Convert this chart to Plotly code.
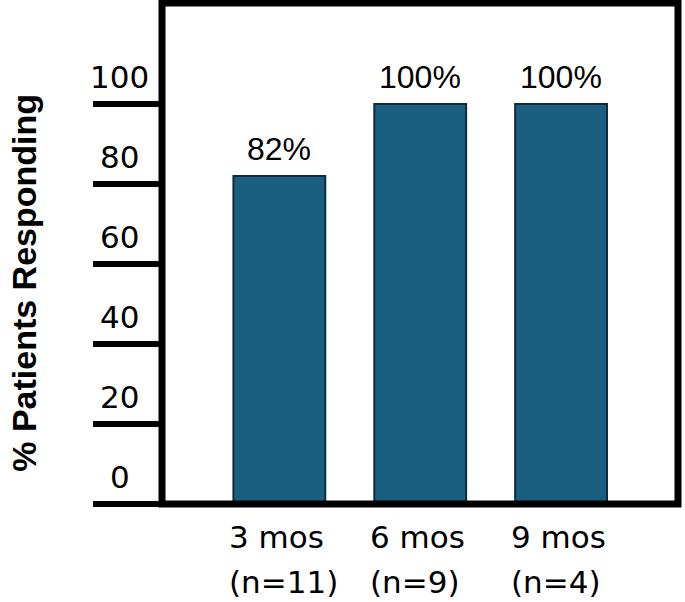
import plotly.graph_objects as go

# data
categories = ["3 mos", "6 mos", "9 mos"]
sample_sizes = ["(n=11)", "(n=9)", "(n=4)"]
responding = [82, 100, 100]
y_ticks = [0, 20, 40, 60, 80, 100]

BAR_FILL = "#1a5f80"
BAR_EDGE = "#0f2c3d"
FONT = "Liberation Sans, Arial, sans-serif"
LABEL_FONT = "DejaVu Sans, sans-serif"

x_pos = list(range(len(categories)))

fig = go.Figure(go.Bar(
    x=x_pos,
    y=responding,
    width=0.652,
    marker=dict(color=BAR_FILL, line=dict(color=BAR_EDGE, width=2)),
    hoverinfo="skip",
))

fig.update_xaxes(
    range=[-0.833, 2.83],
    showline=False, showticklabels=False, ticks="",
    showgrid=False, zeroline=False,
)
fig.update_yaxes(
    range=[0, 125.25],
    tickvals=y_ticks,
    ticks="outside", ticklen=68, tickwidth=6, tickcolor="black",
    showticklabels=False, showline=False,
    showgrid=False, zeroline=False,
)

# heavy frame round the plot area
fig.add_shape(
    type="rect", xref="paper", yref="paper", x0=0, x1=1, y0=0, y1=1,
    line=dict(color="black", width=7), layer="above",
)

# value labels above the bars
for i, v in enumerate(responding):
    fig.add_annotation(
        x=i, xref="x", y=v, yref="y",
        text=f"{v}%", showarrow=False,
        xanchor="center", yanchor="bottom", yshift=7,
        font=dict(family=FONT, size=32, color="black"),
    )

# tick labels sit above the tick lines
for t in y_ticks:
    fig.add_annotation(
        x=-0.0823, xref="paper", y=t, yref="y",
        text=str(t), showarrow=False,
        xanchor="center", yanchor="bottom", yshift=7,
        font=dict(family=LABEL_FONT, size=31, color="black"),
    )

# category labels, two rows, left aligned under each bar
for i, (cat, n) in enumerate(zip(categories, sample_sizes)):
    fig.add_annotation(
        x=i, xref="x", y=-0.066, yref="paper",
        text=cat, showarrow=False,
        xanchor="left", yanchor="middle", xshift=-52,
        font=dict(family=LABEL_FONT, size=31, color="black"),
    )
    fig.add_annotation(
        x=i, xref="x", y=-0.156, yref="paper",
        text=n, showarrow=False,
        xanchor="left", yanchor="middle", xshift=-52,
        font=dict(family=LABEL_FONT, size=31, color="black"),
    )

fig.add_annotation(
    x=-0.268, xref="paper", y=0.441, yref="paper",
    text="<b>% Patients Responding</b>", showarrow=False,
    textangle=-90, xanchor="center", yanchor="middle",
    font=dict(family=FONT, size=34, color="black"),
)

fig.update_layout(
    width=685, height=602,
    margin=dict(l=161.5, r=7, t=3, b=98),
    paper_bgcolor="white", plot_bgcolor="white",
    showlegend=False,
)

# drop the default page margin so the figure fills the window exactly
fig.write_html(
    "out.html",
    config={"displayModeBar": False},
    post_script="document.body.style.margin = '0';",
)
